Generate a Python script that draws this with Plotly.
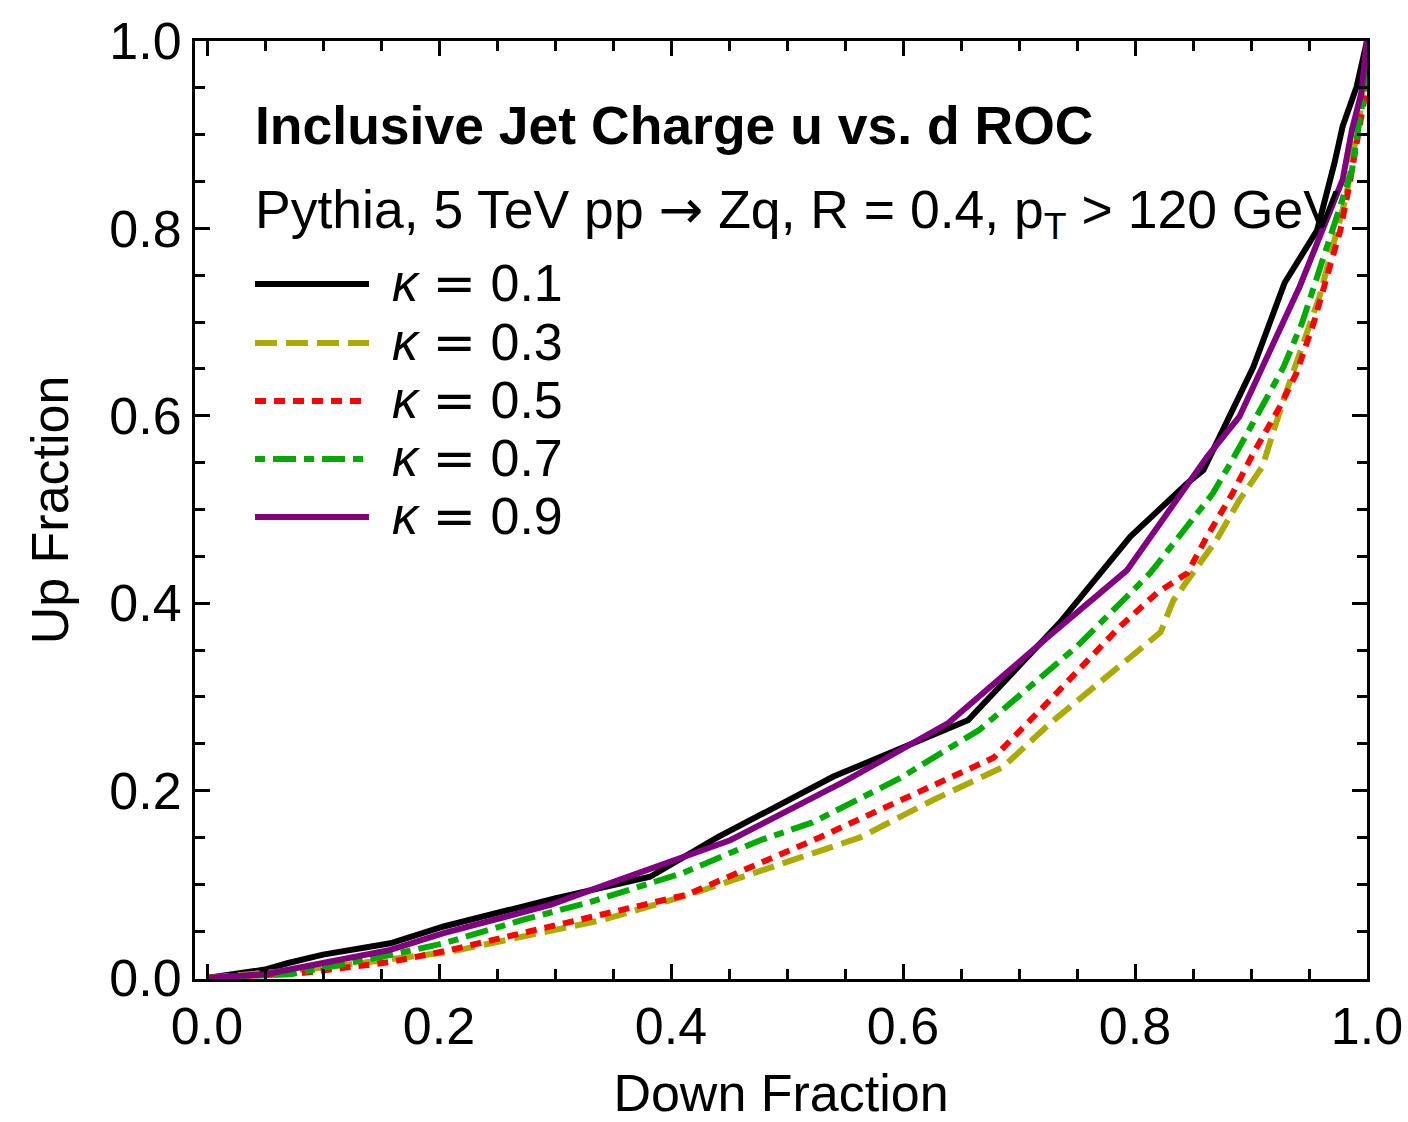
import plotly.graph_objects as go

# ---- data ----
labels = ["0.1", "0.3", "0.5", "0.7", "0.9"]

x_k01 = [0, 0.05, 0.07, 0.1, 0.158, 0.204, 0.30, 0.382, 0.44, 0.54, 0.656, 0.735, 0.796, 0.845, 0.859, 0.89, 0.902, 0.929, 0.957, 0.972, 0.979, 0.991, 1.0]
y_k01 = [0, 0.009, 0.016, 0.025, 0.037, 0.055, 0.085, 0.108, 0.15, 0.215, 0.275, 0.379, 0.471, 0.528, 0.542, 0.62, 0.652, 0.742, 0.798, 0.87, 0.909, 0.951, 1.0]

x_k03 = [0, 0.1, 0.21, 0.272, 0.341, 0.416, 0.563, 0.626, 0.686, 0.727, 0.807, 0.822, 0.833, 0.853, 0.87, 0.89, 0.91, 0.919, 0.93, 0.959, 0.968, 0.982, 0.995, 1.0]
y_k03 = [0, 0.011, 0.028, 0.044, 0.062, 0.089, 0.15, 0.19, 0.225, 0.272, 0.354, 0.369, 0.403, 0.439, 0.467, 0.51, 0.546, 0.582, 0.624, 0.727, 0.77, 0.834, 0.93, 1.0]

x_k05 = [0, 0.08, 0.158, 0.21, 0.272, 0.345, 0.414, 0.528, 0.615, 0.678, 0.727, 0.77, 0.787, 0.819, 0.845, 0.862, 0.884, 0.902, 0.925, 0.939, 0.954, 0.964, 0.977, 0.985, 0.992, 0.998, 1.0]
y_k05 = [0, 0.005, 0.017, 0.03, 0.048, 0.069, 0.089, 0.15, 0.2, 0.235, 0.297, 0.354, 0.375, 0.411, 0.432, 0.471, 0.517, 0.56, 0.61, 0.645, 0.699, 0.742, 0.798, 0.848, 0.902, 0.94, 1.0]

x_k07 = [0, 0.072, 0.152, 0.204, 0.272, 0.33, 0.41, 0.477, 0.522, 0.597, 0.666, 0.727, 0.75, 0.793, 0.813, 0.867, 0.884, 0.914, 0.928, 0.944, 0.961, 0.974, 0.987, 0.994, 0.998, 1.0]
y_k07 = [0, 0.004, 0.023, 0.037, 0.062, 0.081, 0.112, 0.147, 0.166, 0.213, 0.265, 0.329, 0.354, 0.407, 0.432, 0.517, 0.553, 0.62, 0.652, 0.699, 0.763, 0.812, 0.862, 0.919, 0.948, 1.0]

x_k09 = [0, 0.05, 0.1, 0.158, 0.204, 0.296, 0.347, 0.399, 0.451, 0.55, 0.639, 0.727, 0.793, 0.862, 0.89, 0.942, 0.961, 0.979, 0.987, 0.995, 1.0]
y_k09 = [0, 0.004, 0.016, 0.03, 0.048, 0.078, 0.101, 0.124, 0.147, 0.21, 0.272, 0.366, 0.435, 0.556, 0.599, 0.738, 0.795, 0.852, 0.905, 0.944, 1.0]

xs = [x_k01, x_k03, x_k05, x_k07, x_k09]
ys = [y_k01, y_k03, y_k05, y_k07, y_k09]
colors = ["#000000", "#AAAA00", "#FF0000", "#00AA00", "#800080"]
dashes = ["solid", "22px,9px", "11px,8px", "10px,8px,23px,8px", "solid"]
LW = 6

FONT = "Liberation Sans, Arial, Helvetica, sans-serif"

fig = go.Figure()
for x, y, c, d, lab in zip(xs, ys, colors, dashes, labels):
    fig.add_trace(go.Scatter(x=x, y=y, mode="lines",
                             line=dict(color=c, width=LW, dash=d),
                             name="κ = " + lab, showlegend=False))

# ---- manual legend ----
L, R, T, B = 195, 1367, 41, 979
W, H = R - L, B - T
def px(xp):
    return (xp - L) / W
def py(yp):
    return (B - yp) / H

EQ = "<span style=\"font-family:'DejaVu Sans'\">=</span>"
ARROW = "<span style=\"font-family:'DejaVu Sans'\">→</span>"

shapes = []
annotations = []
leg_y = [284, 343, 401, 459, 517]
for yy, c, d, lab in zip(leg_y, colors, dashes, labels):
    shapes.append(dict(type="line", xref="paper", yref="paper",
                       x0=px(255), x1=px(369), y0=py(yy), y1=py(yy),
                       line=dict(color=c, width=LW, dash=d)))
    annotations.append(dict(xref="paper", yref="paper", x=px(390), y=py(yy - 1),
                            xanchor="left", yanchor="middle", showarrow=False,
                            text="<i>κ</i> " + EQ + " " + lab,
                            font=dict(family=FONT, size=52, color="black")))

annotations.append(dict(xref="paper", yref="paper", x=px(253), y=py(125),
                        xanchor="left", yanchor="middle", showarrow=False,
                        text="<b>Inclusive Jet Charge u vs. d ROC</b>",
                        font=dict(family=FONT, size=53.5, color="black")))
annotations.append(dict(xref="paper", yref="paper", x=px(253), y=py(212),
                        xanchor="left", yanchor="middle", showarrow=False,
                        text="Pythia, 5 TeV pp " + ARROW + " Zq, R = 0.4, p<sub>T</sub> > 120 GeV",
                        font=dict(family=FONT, size=53.5, color="black")))

axis_common = dict(
    showline=True, linecolor="black", linewidth=3, mirror="ticks",
    ticks="inside", ticklen=15, tickwidth=3, tickcolor="black",
    dtick=0.2, tick0=0, tickformat=".1f", automargin=False,
    minor=dict(ticks="inside", ticklen=10, tickwidth=3, tickcolor="black", dtick=0.05, tick0=0, showgrid=False),
    showgrid=False, zeroline=False,
    tickfont=dict(family=FONT, size=52, color="black"),
    title_font=dict(family=FONT, size=52, color="black"),
)

fig.update_layout(
    width=1408, height=1122,
    margin=dict(l=L, r=1408 - R, t=T, b=1122 - B, pad=0),
    paper_bgcolor="white", plot_bgcolor="white",
    xaxis=dict(range=[-12 / 1160, 1.0], title=dict(text="Down Fraction", standoff=30), **axis_common),
    yaxis=dict(range=[-1 / 937, 1.0], title=dict(text="Up Fraction", standoff=25), **axis_common),
    shapes=shapes, annotations=annotations,
)

fig.write_html("out.html")
